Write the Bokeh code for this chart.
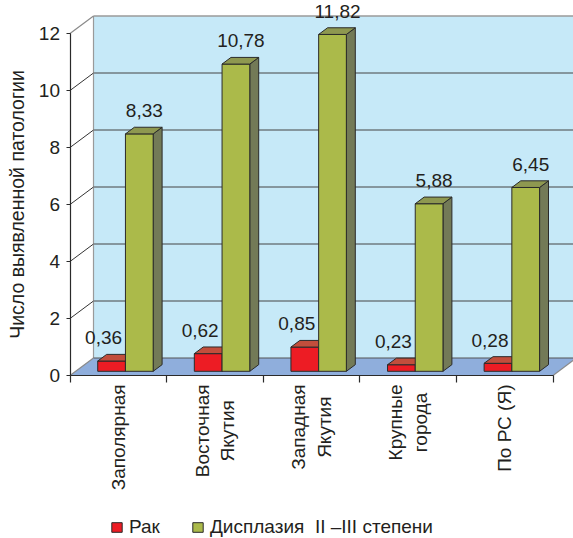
import math

from bokeh.core.properties import value
from bokeh.embed import file_html
from bokeh.models import FixedTicker, Legend, LegendItem, LinearAxis, Range1d
from bokeh.plotting import figure
from bokeh.resources import INLINE

# ---- data -------------------------------------------------------------
categories = ["Заполярная", "Восточная\nЯкутия", "Западная\nЯкутия",
              "Крупные\nгорода", "По РС (Я)"]
rak = [0.36, 0.62, 0.85, 0.23, 0.28]
dysplasia = [8.33, 10.78, 11.82, 5.88, 6.45]
y_ticks = [0, 2, 4, 6, 8, 10, 12]
series_names = ["Рак", "Дисплазия  II –III степени"]
axis_title = "Число выявленной патологии"

# ---- layout / style ---------------------------------------------------
W, H = 573, 538
X0_PX, CAT_PX = 69.5, 96.6        # screen x of category 0 and width of one category
Y0_PX, UNIT_PX = 375.0, 28.5      # screen y of value 0 and pixels per unit
DEPTH_PX = (23.5, 17.5)           # pseudo-3D depth of the floor
DX = DEPTH_PX[0] / CAT_PX
DY = DEPTH_PX[1] / UNIT_PX
F0, F1 = 0.24, 0.62               # bar front/back as fractions of depth
BAR_W = 0.287
BAR_OFF = 0.287
YMAX = y_ticks[-1]
N = len(categories)

FONT_NAME = "Liberation Sans"
FONT = value(FONT_NAME)
FS = "19px"
TXT = "#231F20"
WALL = "#C6E9F8"
FLOOR = "#8FAEDC"
RED, RED_TOP = "#ED1C24", "#C24E3C"
GRN, GRN_TOP, GRN_SIDE = "#ABBA4A", "#8E9850", "#737A57"
EDGE = "#2A2A2A"


def sx(px):
    return px / CAT_PX


def sy(px):
    return px / UNIT_PX


p = figure(width=W, height=H,
           x_range=Range1d(-X0_PX / CAT_PX, (W - X0_PX) / CAT_PX),
           y_range=Range1d(-(H - Y0_PX) / UNIT_PX, Y0_PX / UNIT_PX),
           x_axis_type=None, y_axis_type=None,
           min_border=0, outline_line_color=None,
           toolbar_location=None, output_backend="svg")
p.background_fill_color = "white"
p.border_fill_color = "white"

xr = p.x_range.end + 0.2

# back wall
p.patch([DX, xr, xr, DX], [DY, DY, YMAX + DY, YMAX + DY],
        fill_color=WALL, line_color=None)
p.segment(x0=[DX] * (len(y_ticks) - 2), x1=[xr] * (len(y_ticks) - 2),
          y0=[v + DY for v in y_ticks[1:-1]], y1=[v + DY for v in y_ticks[1:-1]],
          line_color="#454545", line_width=1)
p.segment(x0=[DX], x1=[xr], y0=[YMAX + DY], y1=[YMAX + DY],
          line_color="#9A9A9A", line_width=1.5)
p.segment(x0=[DX], x1=[DX], y0=[DY], y1=[YMAX + DY],
          line_color="#9A9A9A", line_width=1.2)

# floor
p.patch([0, N, N + DX, DX], [0, 0, DY, DY], fill_color=FLOOR, line_color=None)
p.segment(x0=[DX], x1=[N + DX], y0=[DY], y1=[DY], line_color="#555555", line_width=1.2)
p.segment(x0=[N], x1=[N + DX], y0=[0], y1=[DY], line_color="#8A8A8A", line_width=1.2)

# side-wall depth lines from the front ticks
inner = y_ticks[1:-1]
p.segment(x0=[0] * len(inner), x1=[DX] * len(inner),
          y0=inner, y1=[v + DY for v in inner], line_color="#333333", line_width=1)
p.segment(x0=[0, 0], x1=[DX, DX], y0=[0, YMAX], y1=[DY, YMAX + DY],
          line_color="#8A8A8A", line_width=1.2)

# ---- bars -------------------------------------------------------------
base = F0 * DY
ddx = (F1 - F0) * DX
ddy = (F1 - F0) * DY


def draw_bars(vals, shift, front, top, side):
    lefts = [i + BAR_OFF + shift for i in range(N)]
    rights = [l + BAR_W for l in lefts]
    tops = [v + base for v in vals]
    tx = [[l, r, r + ddx, l + ddx] for l, r in zip(lefts, rights)]
    ty = [[t, t, t + ddy, t + ddy] for t in tops]
    sxs = [[r, r + ddx, r + ddx, r] for r in rights]
    sys_ = [[base, base + ddy, t + ddy, t] for t in tops]
    p.patches(sxs, sys_, fill_color=side, line_color=EDGE, line_width=1)
    r = p.quad(left=lefts, right=rights, bottom=[base] * N, top=tops,
               fill_color=front, line_color=EDGE, line_width=1)
    p.patches(tx, ty, fill_color=top, line_color=EDGE, line_width=1)
    return r, lefts, tops


r_rak, rak_left, rak_top = draw_bars(rak, 0.0, RED, RED_TOP, RED_TOP)
r_dys, dys_left, dys_top = draw_bars(dysplasia, BAR_W, GRN, GRN_TOP, GRN_SIDE)

# value labels above the back edge of each bar top
gap = sy(10)
p.text(x=[l + BAR_W / 2 - sx(8) for l in rak_left],
       y=[t + ddy + gap for t in rak_top],
       text=[f"{v:.2f}".replace(".", ",") for v in rak],
       text_font=FONT, text_font_size=FS, text_color=TXT,
       text_align="center", text_baseline="bottom")
p.text(x=[l + BAR_W / 2 + sx(5) for l in dys_left],
       y=[t + ddy + gap for t in dys_top],
       text=[f"{v:.2f}".replace(".", ",") for v in dysplasia],
       text_font=FONT, text_font_size=FS, text_color=TXT,
       text_align="center", text_baseline="bottom")

# ---- axes -------------------------------------------------------------
yaxis = LinearAxis(fixed_location=0, bounds=(0, YMAX),
                   ticker=FixedTicker(ticks=y_ticks),
                   axis_line_color=EDGE, axis_line_width=1.2,
                   major_tick_line_color=EDGE, major_tick_out=4, major_tick_in=0,
                   minor_tick_out=0, minor_tick_in=0,
                   major_label_standoff=6,
                   major_label_text_font=FONT_NAME, major_label_text_font_size=FS,
                   major_label_text_color=TXT)
p.add_layout(yaxis, "left")

# category boundaries are marked with (minor) ticks only
xaxis = LinearAxis(fixed_location=0, bounds=(0, N),
                   ticker=FixedTicker(ticks=[], minor_ticks=list(range(N + 1))),
                   axis_line_color=EDGE, axis_line_width=1.2,
                   major_tick_out=0, major_tick_in=0,
                   minor_tick_line_color=EDGE, minor_tick_line_width=1.2,
                   minor_tick_out=7, minor_tick_in=0)
p.add_layout(xaxis, "below")

# category names, rotated under the axis, lines centred within each block
p.text(x=[i + 0.5 for i in range(N)], y=[-sy(9)] * N, text=categories,
       angle=math.pi / 2, anchor="center_right", text_align="center",
       text_line_height=1.22,
       text_font=FONT, text_font_size=FS, text_color=TXT)

# axis title
p.text(x=[sx(16 - X0_PX)], y=[YMAX / 2], text=[axis_title],
       angle=math.pi / 2, text_align="center", text_baseline="middle",
       text_font=FONT, text_font_size="19.5px", text_color=TXT)

# ---- legend -----------------------------------------------------------
for rend, name, xpos in ((r_rak, series_names[0], 110), (r_dys, series_names[1], 191)):
    lg = Legend(items=[LegendItem(label=name, renderers=[rend])],
                location=(xpos, 0), orientation="horizontal",
                padding=0, margin=0, spacing=0,
                glyph_width=13, glyph_height=12, label_standoff=6,
                label_height=12,
                label_text_font=FONT_NAME, label_text_font_size=FS,
                label_text_color=TXT,
                border_line_color=None, background_fill_alpha=0)
    p.add_layout(lg)

open("out.html", "w").write(file_html(p, INLINE))
